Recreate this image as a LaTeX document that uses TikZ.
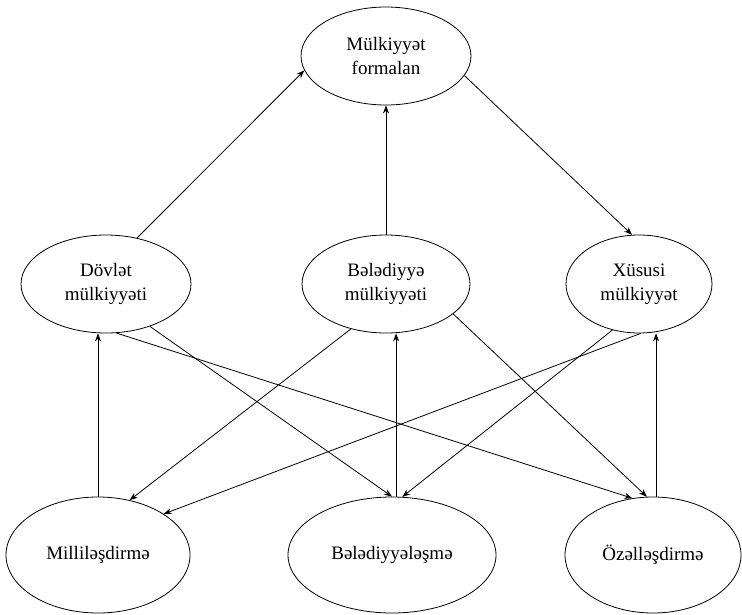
\documentclass[tikz,border=0pt]{standalone}
\usepackage{fontspec}
\setmainfont{Liberation Serif}
\usetikzlibrary{shapes.geometric,arrows.meta,calc}
\begin{document}
\begin{tikzpicture}[x=1pt,y=1pt,
  form/.style={draw, ellipse, line width=0.8pt, inner sep=0pt, align=center,
    font=\fontsize{19}{24}\selectfont},
  link/.style={line width=0.8pt, -{Stealth[length=8pt,width=6pt]}}]
\useasboundingbox (0,0) rectangle (742,-614);

% top level
\node[form, minimum width=170pt, minimum height=98pt] (T) at (386,-56) {Mülkiyyət\\formalan};

% forms of ownership
\node[form, minimum width=170pt, minimum height=98pt] (D) at (106,-284) {Dövlət\\mülkiyyəti};
\node[form, minimum width=168pt, minimum height=98pt] (B) at (386,-284) {Bələdiyyə\\mülkiyyəti};
\node[form, minimum width=146pt, minimum height=98pt] (X) at (639,-284) {Xüsusi\\mülkiyyət};

% transformation processes
\node[form, minimum width=184pt, minimum height=116pt] (M) at (98,-555) {Milliləşdirmə};
\node[form, minimum width=208pt, minimum height=116pt] (BL) at (392,-555) {Bələdiyyələşmə};
\node[form, minimum width=176pt, minimum height=116pt] (O) at (653,-555) {Özəlləşdirmə};

% upper links
\draw[link] (D.56) -- (T.190);
\draw[link] (B.north) -- (T.south);
\draw[link] (T.-14) -- (X.98);

% lower links
\draw[link] (M.north) -- (M.north |- D.south);
\draw[link] (D.-44) -- (BL.90);
\draw[link] (D.-78) -- (O.110);
\draw[link] (B.232) -- (M.60);
\draw[link] (BL.86) -- (BL.86 |- B.south);
\draw[link] (B.-24) -- (O.96);
\draw[link] (X.-88) -- (M.32);
\draw[link] (X.240) -- (BL.80);
\draw[link] (O.87) -- (O.87 |- X.south);
\end{tikzpicture}
\end{document}
